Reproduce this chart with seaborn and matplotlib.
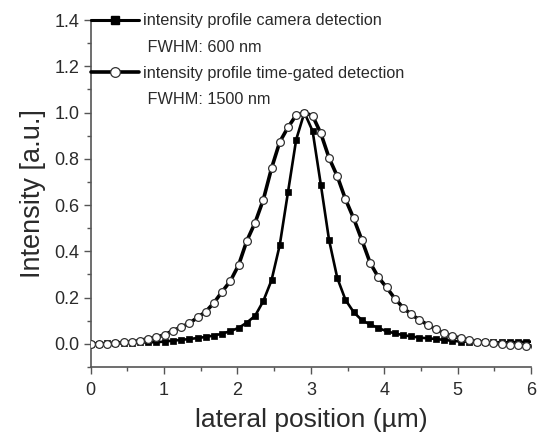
import matplotlib
matplotlib.use("Agg")
import matplotlib.pyplot as plt
from matplotlib.lines import Line2D
from matplotlib.ticker import MultipleLocator
import seaborn as sns
import pandas as pd

# lateral position (µm), sampled every ~0.112 µm
position = [0.000, 0.112, 0.224, 0.336, 0.448, 0.560, 0.672, 0.784, 0.896, 1.008,
            1.120, 1.232, 1.344, 1.456, 1.568, 1.680, 1.792, 1.904, 2.016, 2.128,
            2.240, 2.352, 2.464, 2.576, 2.688, 2.800, 2.912, 3.024, 3.136, 3.248,
            3.360, 3.472, 3.584, 3.696, 3.808, 3.920, 4.032, 4.144, 4.256, 4.368,
            4.480, 4.592, 4.704, 4.816, 4.928, 5.040, 5.152, 5.264, 5.376, 5.488,
            5.600, 5.712, 5.824, 5.936, 6.048]

camera = [0.000, 0.001, 0.002, 0.003, 0.004, 0.005, 0.006, 0.007, 0.007, 0.010,
          0.014, 0.017, 0.021, 0.025, 0.030, 0.036, 0.044, 0.055, 0.069, 0.092,
          0.121, 0.185, 0.275, 0.427, 0.655, 0.883, 1.000, 0.920, 0.688, 0.449,
          0.285, 0.190, 0.137, 0.102, 0.084, 0.068, 0.055, 0.045, 0.038, 0.032,
          0.027, 0.024, 0.021, 0.017, 0.013, 0.010, 0.009, 0.008, 0.007, 0.007,
          0.007, 0.007, 0.008, 0.009, 0.010]

time_gated = [0.000, 0.000, 0.001, 0.003, 0.006, 0.009, 0.014, 0.023, 0.029, 0.039,
              0.057, 0.072, 0.089, 0.114, 0.139, 0.178, 0.226, 0.272, 0.341, 0.446,
              0.524, 0.623, 0.759, 0.873, 0.936, 0.989, 1.000, 0.986, 0.910, 0.804,
              0.725, 0.625, 0.542, 0.448, 0.350, 0.288, 0.244, 0.196, 0.157, 0.127,
              0.104, 0.082, 0.063, 0.046, 0.034, 0.024, 0.017, 0.010, 0.006, 0.003,
              0.000, -0.003, -0.006, -0.008, -0.009]

labels = ["intensity profile camera detection", " FWHM: 600 nm",
          "intensity profile time-gated detection", " FWHM: 1500 nm"]

x_ticks = [0, 1, 2, 3, 4, 5, 6]
y_ticks = [0.0, 0.2, 0.4, 0.6, 0.8, 1.0, 1.2, 1.4]

sns.set_theme(style="ticks")
plt.rcParams['font.family'] = ['Liberation Sans', 'DejaVu Sans']

df = pd.DataFrame({"position": position, "camera": camera, "gated": time_gated})

fig = plt.figure(figsize=(5.38, 4.36), dpi=100)
ax = fig.add_axes([0.1686, 0.1583, 0.8184, 0.7957])

text_col = "#2a2a2a"
spine_col = "#555555"

sns.lineplot(data=df, x="position", y="gated", ax=ax, color="black", linewidth=2.6,
             marker="o", markersize=5.6, markerfacecolor="white",
             markeredgecolor="#333333", markeredgewidth=0.9, zorder=3)
sns.lineplot(data=df, x="position", y="camera", ax=ax, color="black", linewidth=1.9,
             marker="s", markersize=5.0, markerfacecolor="black",
             markeredgecolor="black", markeredgewidth=0.5, zorder=2)

ax.set_xlim(0, 6)
ax.set_ylim(-0.1, 1.4)
ax.set_xticks(x_ticks)
ax.set_yticks(y_ticks)
ax.set_yticklabels([f"{v:.1f}" for v in y_ticks])
ax.xaxis.set_minor_locator(MultipleLocator(0.5))
ax.yaxis.set_minor_locator(MultipleLocator(0.1))
ax.tick_params(axis="both", which="major", direction="out", length=5, width=1,
               color=spine_col, labelsize=13, labelcolor=text_col)
ax.tick_params(axis="x", which="major", pad=6)
ax.tick_params(axis="y", which="major", pad=3)
ax.tick_params(axis="both", which="minor", direction="out", length=3, width=1,
               color=spine_col)

for side in ["top", "right"]:
    ax.spines[side].set_visible(False)
for side in ["left", "bottom"]:
    ax.spines[side].set_color(spine_col)
    ax.spines[side].set_linewidth(1.2)

ax.set_xlabel("lateral position (µm)", fontsize=19, color=text_col, labelpad=6)
ax.set_ylabel("Intensity [a.u.]", fontsize=19.5, color=text_col, labelpad=6)

blank = Line2D([], [], linestyle="none", marker=None)
h_cam = Line2D([], [], color="black", linewidth=2.2, marker="s", markersize=6,
               markerfacecolor="black", markeredgecolor="black")
h_gate = Line2D([], [], color="black", linewidth=2.6, marker="o", markersize=7,
                markerfacecolor="white", markeredgecolor="#333333", markeredgewidth=0.9)
leg = ax.legend([h_cam, blank, h_gate, blank], labels, loc="upper left",
                bbox_to_anchor=(0.0, 1.019), frameon=False, fontsize=11.7,
                handlelength=2.95, handletextpad=0.25, labelspacing=0.68,
                borderaxespad=0.0, borderpad=0.0)
for t in leg.get_texts():
    t.set_color(text_col)

fig.savefig("out.png", dpi=100)
